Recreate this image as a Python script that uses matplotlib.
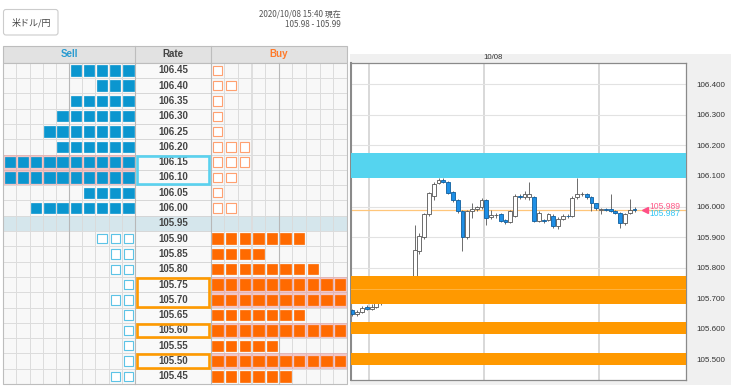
import numpy as np
import matplotlib.pyplot as plt
from matplotlib.patches import Rectangle, FancyBboxPatch

# order book rows (rate, sell orders, buy orders)
rates = [106.45, 106.40, 106.35, 106.30, 106.25, 106.20, 106.15, 106.10, 106.05, 106.00,
         105.95, 105.90, 105.85, 105.80, 105.75, 105.70, 105.65, 105.60, 105.55, 105.50, 105.45]
sell_counts = [5, 3, 5, 6, 7, 6, 10, 10, 4, 8, 0, 3, 2, 2, 1, 2, 1, 1, 1, 1, 2]
buy_counts = [1, 2, 1, 1, 1, 3, 3, 2, 1, 2, 0, 7, 4, 8, 10, 10, 7, 10, 5, 10, 6]
mid_rate = 105.95
sell_walls = [106.15, 106.10]
buy_walls = [105.75, 105.70, 105.60, 105.50]

pair_name = "米ドル/円"
stamp = "2020/10/08 15:40 現在"
quote = "105.98 - 105.99"
bid, ask = 105.987, 105.989

# candles (10/08)
opens = [105.660, 105.648, 105.656, 105.670, 105.664, 105.672, 105.683, 105.690, 105.693, 105.710,
         105.722, 105.740, 105.732, 105.760, 105.856, 105.900, 105.977, 106.036, 106.078, 106.087,
         106.080, 106.048, 106.020, 105.984, 105.900, 105.987, 105.991, 105.997, 106.022, 105.965,
         105.971, 105.977, 105.955, 105.948, 105.970, 106.036, 106.030, 106.032, 106.030, 105.954,
         105.955, 105.957, 105.970, 105.935, 105.960, 105.970, 105.970, 106.030, 106.040, 106.040,
         106.030, 106.010, 105.990, 105.991, 105.991, 105.986, 105.978, 105.945, 105.978, 105.990]
closes = [105.648, 105.656, 105.668, 105.664, 105.672, 105.683, 105.690, 105.693, 105.710, 105.722,
          105.740, 105.732, 105.760, 105.859, 105.905, 105.977, 106.043, 106.075, 106.086, 106.081,
          106.045, 106.020, 105.984, 105.900, 105.987, 105.991, 105.997, 106.022, 105.964, 105.971,
          105.973, 105.954, 105.948, 105.984, 106.036, 106.030, 106.040, 106.041, 105.954, 105.980,
          105.952, 105.974, 105.935, 105.960, 105.970, 105.968, 106.029, 106.040, 106.042, 106.030,
          106.010, 105.995, 105.991, 105.990, 105.986, 105.978, 105.945, 105.975, 105.990, 105.989]
highs = [105.664, 105.662, 105.675, 105.676, 105.680, 105.690, 105.695, 105.698, 105.715, 105.728,
         105.745, 105.748, 105.765, 105.938, 105.912, 105.980, 106.048, 106.080, 106.095, 106.095,
         106.084, 106.052, 106.024, 105.988, 105.990, 106.010, 106.003, 106.028, 106.025, 105.990,
         105.980, 105.980, 105.958, 105.988, 106.040, 106.040, 106.050, 106.079, 106.034, 105.986,
         105.960, 105.980, 105.974, 105.965, 105.975, 105.976, 106.033, 106.092, 106.048, 106.044,
         106.034, 106.013, 105.996, 105.995, 106.040, 105.990, 105.982, 105.980, 106.025, 106.000]
lows = [105.640, 105.640, 105.652, 105.660, 105.660, 105.668, 105.678, 105.686, 105.690, 105.705,
        105.718, 105.728, 105.728, 105.755, 105.845, 105.895, 105.970, 106.020, 106.074, 106.077,
        106.040, 106.015, 105.980, 105.856, 105.895, 105.962, 105.985, 105.992, 105.938, 105.958,
        105.962, 105.950, 105.944, 105.945, 105.966, 106.026, 106.025, 106.022, 105.950, 105.950,
        105.947, 105.952, 105.930, 105.928, 105.955, 105.963, 105.966, 106.026, 106.035, 106.026,
        105.985, 105.990, 105.975, 105.985, 105.983, 105.975, 105.930, 105.940, 105.974, 105.982]
grid_idx = [3.5, 27.5, 51.5]
yticks = [105.5, 105.6, 105.7, 105.8, 105.9, 106.0, 106.1, 106.2, 106.3, 106.4]

CJK = ['Noto Sans CJK JP', 'DejaVu Sans']
NUM = 'Liberation Sans'

fig = plt.figure(figsize=(7.36, 3.88), dpi=100)
bg = fig.add_axes([0, 0, 1, 1])
bg.set_xlim(0, 736)
bg.set_ylim(388, 0)
bg.axis('off')

# top header
bg.add_patch(FancyBboxPatch((3.5, 9.5), 54.5, 25.5, boxstyle="round,pad=0,rounding_size=2.5",
                            fc='white', ec='#cccccc', lw=0.8))
bg.text(31, 22.5, pair_name, family=CJK, fontsize=6.5, color='#444', ha='center', va='center')
bg.text(340.5, 14, stamp, family=CJK, fontsize=5.8, color='#555', ha='right', va='center')
bg.text(340.5, 24.5, quote, family=CJK, fontsize=5.8, color='#555', ha='right', va='center')

# order book table
TOP, ROW_H, HEAD_TOP = 62.7, 15.3, 45.7
SELL_X0, SELL_W = 3.3, 13.17
RATE_X0, RATE_X1 = 135.0, 210.7
BUY_W = 13.6

bg.add_patch(Rectangle((SELL_X0, HEAD_TOP), RATE_X1 + 10 * BUY_W - SELL_X0, TOP - HEAD_TOP,
                       fc='#e2e2e2', ec='#bdbdbd', lw=0.8))
bg.plot([RATE_X0, RATE_X0], [HEAD_TOP, TOP], color='#bdbdbd', lw=0.8)
bg.plot([RATE_X1, RATE_X1], [HEAD_TOP, TOP], color='#bdbdbd', lw=0.8)
hy = (HEAD_TOP + TOP) / 2
bg.text((SELL_X0 + RATE_X0) / 2, hy, "Sell", family=NUM, fontsize=7, weight='bold', color='#2a9bd0', ha='center', va='center')
bg.text((RATE_X0 + RATE_X1) / 2, hy, "Rate", family=NUM, fontsize=7, weight='bold', color='#444', ha='center', va='center')
bg.text(RATE_X1 + 5 * BUY_W, hy, "Buy", family=NUM, fontsize=7, weight='bold', color='#ff7a2a', ha='center', va='center')

SQ = 10.4
for k, r in enumerate(rates):
    y0 = TOP + k * ROW_H
    cy = y0 + ROW_H / 2
    mid = abs(r - mid_rate) < 1e-6
    above = r > mid_rate
    sell_full = sell_counts[k] == 10
    buy_full = buy_counts[k] == 10
    for j in range(10):
        # sell side, filled from right
        x0 = SELL_X0 + j * SELL_W
        fc = '#d5e6ec' if mid else ('#f2c6c6' if sell_full else '#f8f8f8')
        ec = '#e2b4b4' if sell_full else '#dadada'
        bg.add_patch(Rectangle((x0, y0), SELL_W, ROW_H, fc=fc, ec=ec, lw=0.6))
        if j >= 10 - sell_counts[k]:
            cx = x0 + SELL_W / 2
            if above:
                bg.add_patch(Rectangle((cx - SQ / 2, cy - SQ / 2), SQ, SQ, fc='#0b96cf', ec='#0b96cf', lw=0.5))
            else:
                bg.add_patch(Rectangle((cx - SQ / 2 + 0.5, cy - SQ / 2 + 0.5), SQ - 1, SQ - 1, fc='white', ec='#5cc3e6', lw=0.8))
        # buy side, filled from left
        x0 = RATE_X1 + j * BUY_W
        fc = '#d5e6ec' if mid else ('#f2c6c6' if buy_full else '#f8f8f8')
        ec = '#e2b4b4' if buy_full else '#dadada'
        bg.add_patch(Rectangle((x0, y0), BUY_W, ROW_H, fc=fc, ec=ec, lw=0.6))
        if j < buy_counts[k]:
            cx = x0 + BUY_W / 2
            if not above:
                bg.add_patch(Rectangle((cx - SQ / 2, cy - SQ / 2), SQ, SQ, fc='#ff6a00', ec='#ff6a00', lw=0.5))
            else:
                bg.add_patch(Rectangle((cx - SQ / 2 + 0.5, cy - SQ / 2 + 0.5), SQ - 1, SQ - 1, fc='white', ec='#ffa070', lw=0.8))
    bg.add_patch(Rectangle((RATE_X0, y0), RATE_X1 - RATE_X0, ROW_H,
                           fc='#d5e6ec' if mid else '#f9f9f9', ec='#d4d4d4', lw=0.6))
    bg.text((RATE_X0 + RATE_X1) / 2, cy, f"{r:.2f}", family=NUM, fontsize=7, weight='bold',
            color='#444', ha='center', va='center')

# darker every 5th column + table outline
for xx in [SELL_X0 + 5 * SELL_W, RATE_X0, RATE_X1, RATE_X1 + 5 * BUY_W]:
    bg.plot([xx, xx], [TOP, TOP + len(rates) * ROW_H], color='#b8b8b8', lw=0.8)
bg.add_patch(Rectangle((SELL_X0, TOP), RATE_X1 + 10 * BUY_W - SELL_X0, len(rates) * ROW_H,
                       fill=False, ec='#bdbdbd', lw=0.8))


def wall_groups(levels):
    idx = sorted(rates.index(v) for v in levels)
    groups = [[idx[0]]]
    for i in idx[1:]:
        if i == groups[-1][-1] + 1:
            groups[-1].append(i)
        else:
            groups.append([i])
    return groups


for levels, col in [(sell_walls, '#5ad2ef'), (buy_walls, '#ff9a00')]:
    for g in wall_groups(levels):
        y0 = TOP + g[0] * ROW_H + 1
        h = len(g) * ROW_H - 2
        bg.add_patch(Rectangle((RATE_X0 + 1.5, y0), RATE_X1 - RATE_X0 - 3, h, fill=False, ec=col, lw=1.9, zorder=5))

# chart panel
bg.add_patch(Rectangle((350, 54), 381, 331, fc='#f0f0f0', ec='none'))

ax = fig.add_axes([351 / 736, 1 - 380 / 388, 335 / 736, (380 - 62.7) / 388])
ax.set_zorder(2)
ax.set_facecolor('white')
n = len(opens)
idx = np.arange(n)
ax.set_xlim(-0.31, 69.77)
ax.set_ylim(105.432, 106.471)

ax.set_yticks(yticks)
ax.set_yticklabels([f"{v:.3f}" for v in yticks])
ax.yaxis.tick_right()
ax.tick_params(axis='y', length=0, pad=7.2, labelsize=5.8, labelcolor='#333')
for lab in ax.get_yticklabels():
    lab.set_family(NUM)
ax.set_xticks([])
ax.grid(axis='y', color='#e2e2e2', lw=0.8, zorder=0)
for g in grid_idx:
    ax.axvline(g, color='#d6d6d6', lw=1.3, zorder=0)
for s in ax.spines.values():
    s.set_color('#8a8a8a')
    s.set_linewidth(0.9)
ax.spines['left'].set_linewidth(1.5)
ax.text(29.4, 1.004, "10/08", transform=ax.get_xaxis_transform(), family=NUM,
        fontsize=5.6, color='#333', ha='center', va='bottom')

o = np.array(opens)
c = np.array(closes)
up = c >= o
bottom = np.minimum(o, c)
height = np.maximum(np.abs(c - o), 0.0015)
ax.vlines(idx, lows, highs, color='#555555', lw=0.6, zorder=2)
ax.bar(idx[up], height[up], bottom=bottom[up], width=0.8, color='white', edgecolor='#555555', lw=0.6, zorder=3)
ax.bar(idx[~up], height[~up], bottom=bottom[~up], width=0.8, color='#1e8fe6', edgecolor='#0f5e9e', lw=0.6, zorder=3)

mid_px = (bid + ask) / 2
ax.axhline(mid_px, color='#ffc67a', lw=0.9, zorder=1)

# walls on the chart
for levels, col, lo_pad, hi_pad, seam in [(sell_walls, '#55d4ef', 0.008, 0.025, None),
                                           (buy_walls, '#ff9900', 0.018, 0.022, '#ffb84a')]:
    for g in wall_groups(levels):
        vals = [rates[i] for i in g]
        ax.axhspan(min(vals) - lo_pad, max(vals) + hi_pad, color=col, lw=0, zorder=4)
        if seam:
            for a, b in zip(vals[:-1], vals[1:]):
                ax.axhline((a + b) / 2 + 0.004, color=seam, lw=0.6, zorder=4)

ax.plot([61.2], [mid_px], marker='<', ms=4.2, color='#ff4f86', clip_on=False, zorder=5)
ax.annotate(f"{ask:.3f}", (62.2, mid_px), xytext=(0, 3.0), textcoords='offset points',
            family=NUM, fontsize=6.2, color='#ff5c8a', ha='left', va='center', annotation_clip=False)
ax.annotate(f"{bid:.3f}", (62.2, mid_px), xytext=(0, -2.4), textcoords='offset points',
            family=NUM, fontsize=6.2, color='#33c6f5', ha='left', va='center', annotation_clip=False)

fig.savefig('out.png', dpi=100)
